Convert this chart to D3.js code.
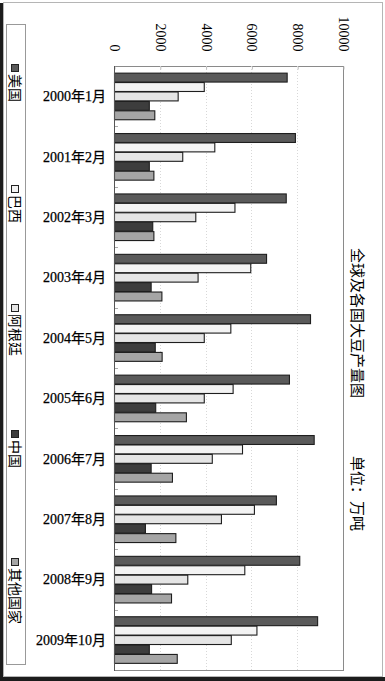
<!DOCTYPE html>
<html><head><meta charset="utf-8">
<script src="https://cdn.jsdelivr.net/npm/d3@7"></script>
<style>
html,body{margin:0;padding:0;background:#fff;}
svg{display:block;}
text{font-family:"Liberation Serif","Noto Sans CJK SC",serif;fill:#000;}
</style></head>
<body>
<svg id="chart" width="385" height="681"></svg>
<script>
const categories = ["2000年1月","2001年2月","2002年3月","2003年4月","2004年5月","2005年6月","2006年7月","2007年8月","2008年9月","2009年10月"];
const seriesNames = ["美国","巴西","阿根廷","中国","其他国家"];
const usa       = [7540, 7900, 7500, 6640, 8560, 7640, 8720, 7070, 8090, 8870];
const brazil    = [3920, 4380, 5260, 5950, 5080, 5180, 5590, 6110, 5690, 6220];
const argentina = [2780, 2980, 3550, 3650, 3920, 3920, 4270, 4670, 3200, 5100];
const china     = [1520, 1520, 1670, 1600, 1780, 1800, 1600, 1350, 1620, 1520];
const others    = [1760, 1720, 1720, 2070, 2080, 3140, 2530, 2680, 2490, 2740];
const valueTicks = [0, 2000, 4000, 6000, 8000, 10000];
const titleText = "全球及各国大豆产量图";
const unitText = "单位：万吨";

const seriesValues = [usa, brazil, argentina, china, others];
const colors = ["#5a5a5a", "#f3f3f3", "#e5e5e5", "#3d3d3d", "#a5a5a5"];

const svg = d3.select("#chart");
const W = 385, H = 681;

// outer frame with shadow
svg.append("rect").attr("x",3.5).attr("y",2.5).attr("width",379).attr("height",674)
  .attr("fill","#fff").attr("stroke","#b5b5b5").attr("stroke-width",1);
svg.append("rect").attr("x",0).attr("y",3).attr("width",3).attr("height",H-3).attr("fill","#1c1c1c");
svg.append("rect").attr("x",0).attr("y",677).attr("width",W).attr("height",4).attr("fill","#1c1c1c");

const px0 = 114, px1 = 343, py0 = 66, py1 = 670;
const x = d3.scaleLinear().domain([0, 10000]).range([px0, px1]);
const y = d3.scaleBand().domain(categories).range([py0, py1]).paddingInner(0.22).paddingOuter(0.11);
const ySub = d3.scaleBand().domain(seriesNames).range([0, y.bandwidth()]).padding(0);

// plot border
svg.append("rect").attr("x",px0+0.5).attr("y",py0+0.5).attr("width",px1-px0).attr("height",py1-py0)
  .attr("fill","#fff").attr("stroke","#8a8a8a").attr("stroke-width",1);

// gridlines
svg.append("g").selectAll("line").data(valueTicks.filter(d => d > 0 && d < 10000)).join("line")
  .attr("x1", d => Math.round(x(d)) + 0.5).attr("x2", d => Math.round(x(d)) + 0.5)
  .attr("y1", py0).attr("y2", py1)
  .attr("stroke","#d8d8d8").attr("stroke-width",1).attr("stroke-dasharray","1,2");

// top axis
const xAxis = d3.axisTop(x).tickValues(valueTicks).tickSize(-3).tickFormat(d3.format("d"));
const gx = svg.append("g").attr("transform", `translate(0.5,${py0 + 0.5})`).call(xAxis);
gx.select(".domain").remove();
gx.selectAll(".tick line").attr("stroke","#bbb");
gx.selectAll(".tick text")
  .attr("transform", "translate(0,-15) rotate(90)")
  .attr("x", 0).attr("y", 0).attr("dy", "0.35em")
  .attr("text-anchor", "end")
  .style("font-family", '"Liberation Serif",serif').style("font-size", "14px").style("fill","#000");

// left category axis ticks (boundaries)
const bounds = categories.slice(1).map(c => y(c) - y.step() * y.paddingInner() / 2);
svg.append("g").selectAll("line").data(bounds).join("line")
  .attr("x1", px0).attr("x2", px0 + 4)
  .attr("y1", d => Math.round(d) + 0.5).attr("y2", d => Math.round(d) + 0.5)
  .attr("stroke","#aaa").attr("stroke-width",1);

// category labels
svg.append("g").selectAll("text").data(categories).join("text")
  .attr("x", px0 - 8).attr("y", d => y(d) + y.bandwidth() / 2)
  .attr("dy", "0.35em").attr("text-anchor", "end")
  .style("font-size", "14px").style("stroke", "#000").style("stroke-width", 0.25).text(d => d);

// bars
const groups = svg.append("g").selectAll("g").data(categories).join("g")
  .attr("transform", d => `translate(0,${y(d)})`);
groups.selectAll("rect").data((c, i) => seriesNames.map((s, j) => ({s, j, v: seriesValues[j][i]}))).join("rect")
  .attr("x", px0 + 0.5)
  .attr("y", d => ySub(d.s) + 0.5)
  .attr("width", d => x(d.v) - px0)
  .attr("height", ySub.bandwidth() - 0.5)
  .attr("fill", d => colors[d.j])
  .attr("stroke", "#1e1e1e").attr("stroke-width", 1.1);

// left axis line
svg.append("line").attr("x1", px0 + 0.5).attr("x2", px0 + 0.5).attr("y1", py0).attr("y2", py1 + 1)
  .attr("stroke", "#555").attr("stroke-width", 1);

// title (rotated)
svg.append("text").attr("transform", "translate(357,248) rotate(90)")
  .attr("dy", "0.35em").attr("text-anchor", "start")
  .style("font-size", "15px").text(titleText);
svg.append("text").attr("transform", "translate(357,456) rotate(90)")
  .attr("dy", "0.35em").attr("text-anchor", "start")
  .style("font-size", "15px").text(unitText);

// legend
svg.append("rect").attr("x", 6.5).attr("y", 24.5).attr("width", 19).attr("height", 640)
  .attr("fill", "#fff").attr("stroke", "#999").attr("stroke-width", 1);
const legendStarts = [64, 185, 304, 430, 558];
const lg = svg.append("g").selectAll("g").data(seriesNames).join("g")
  .attr("transform", (d, i) => `translate(15,${legendStarts[i]})`);
lg.append("rect").attr("x", -3.5).attr("y", 0.5).attr("width", 7).attr("height", 7)
  .attr("fill", (d, i) => colors[i]).attr("stroke", "#222").attr("stroke-width", 1);
lg.append("text").attr("transform", "translate(0,10) rotate(90)")
  .attr("dy", "0.35em").attr("text-anchor", "start")
  .style("font-size", "14px").text(d => d);
</script>
</body></html>
